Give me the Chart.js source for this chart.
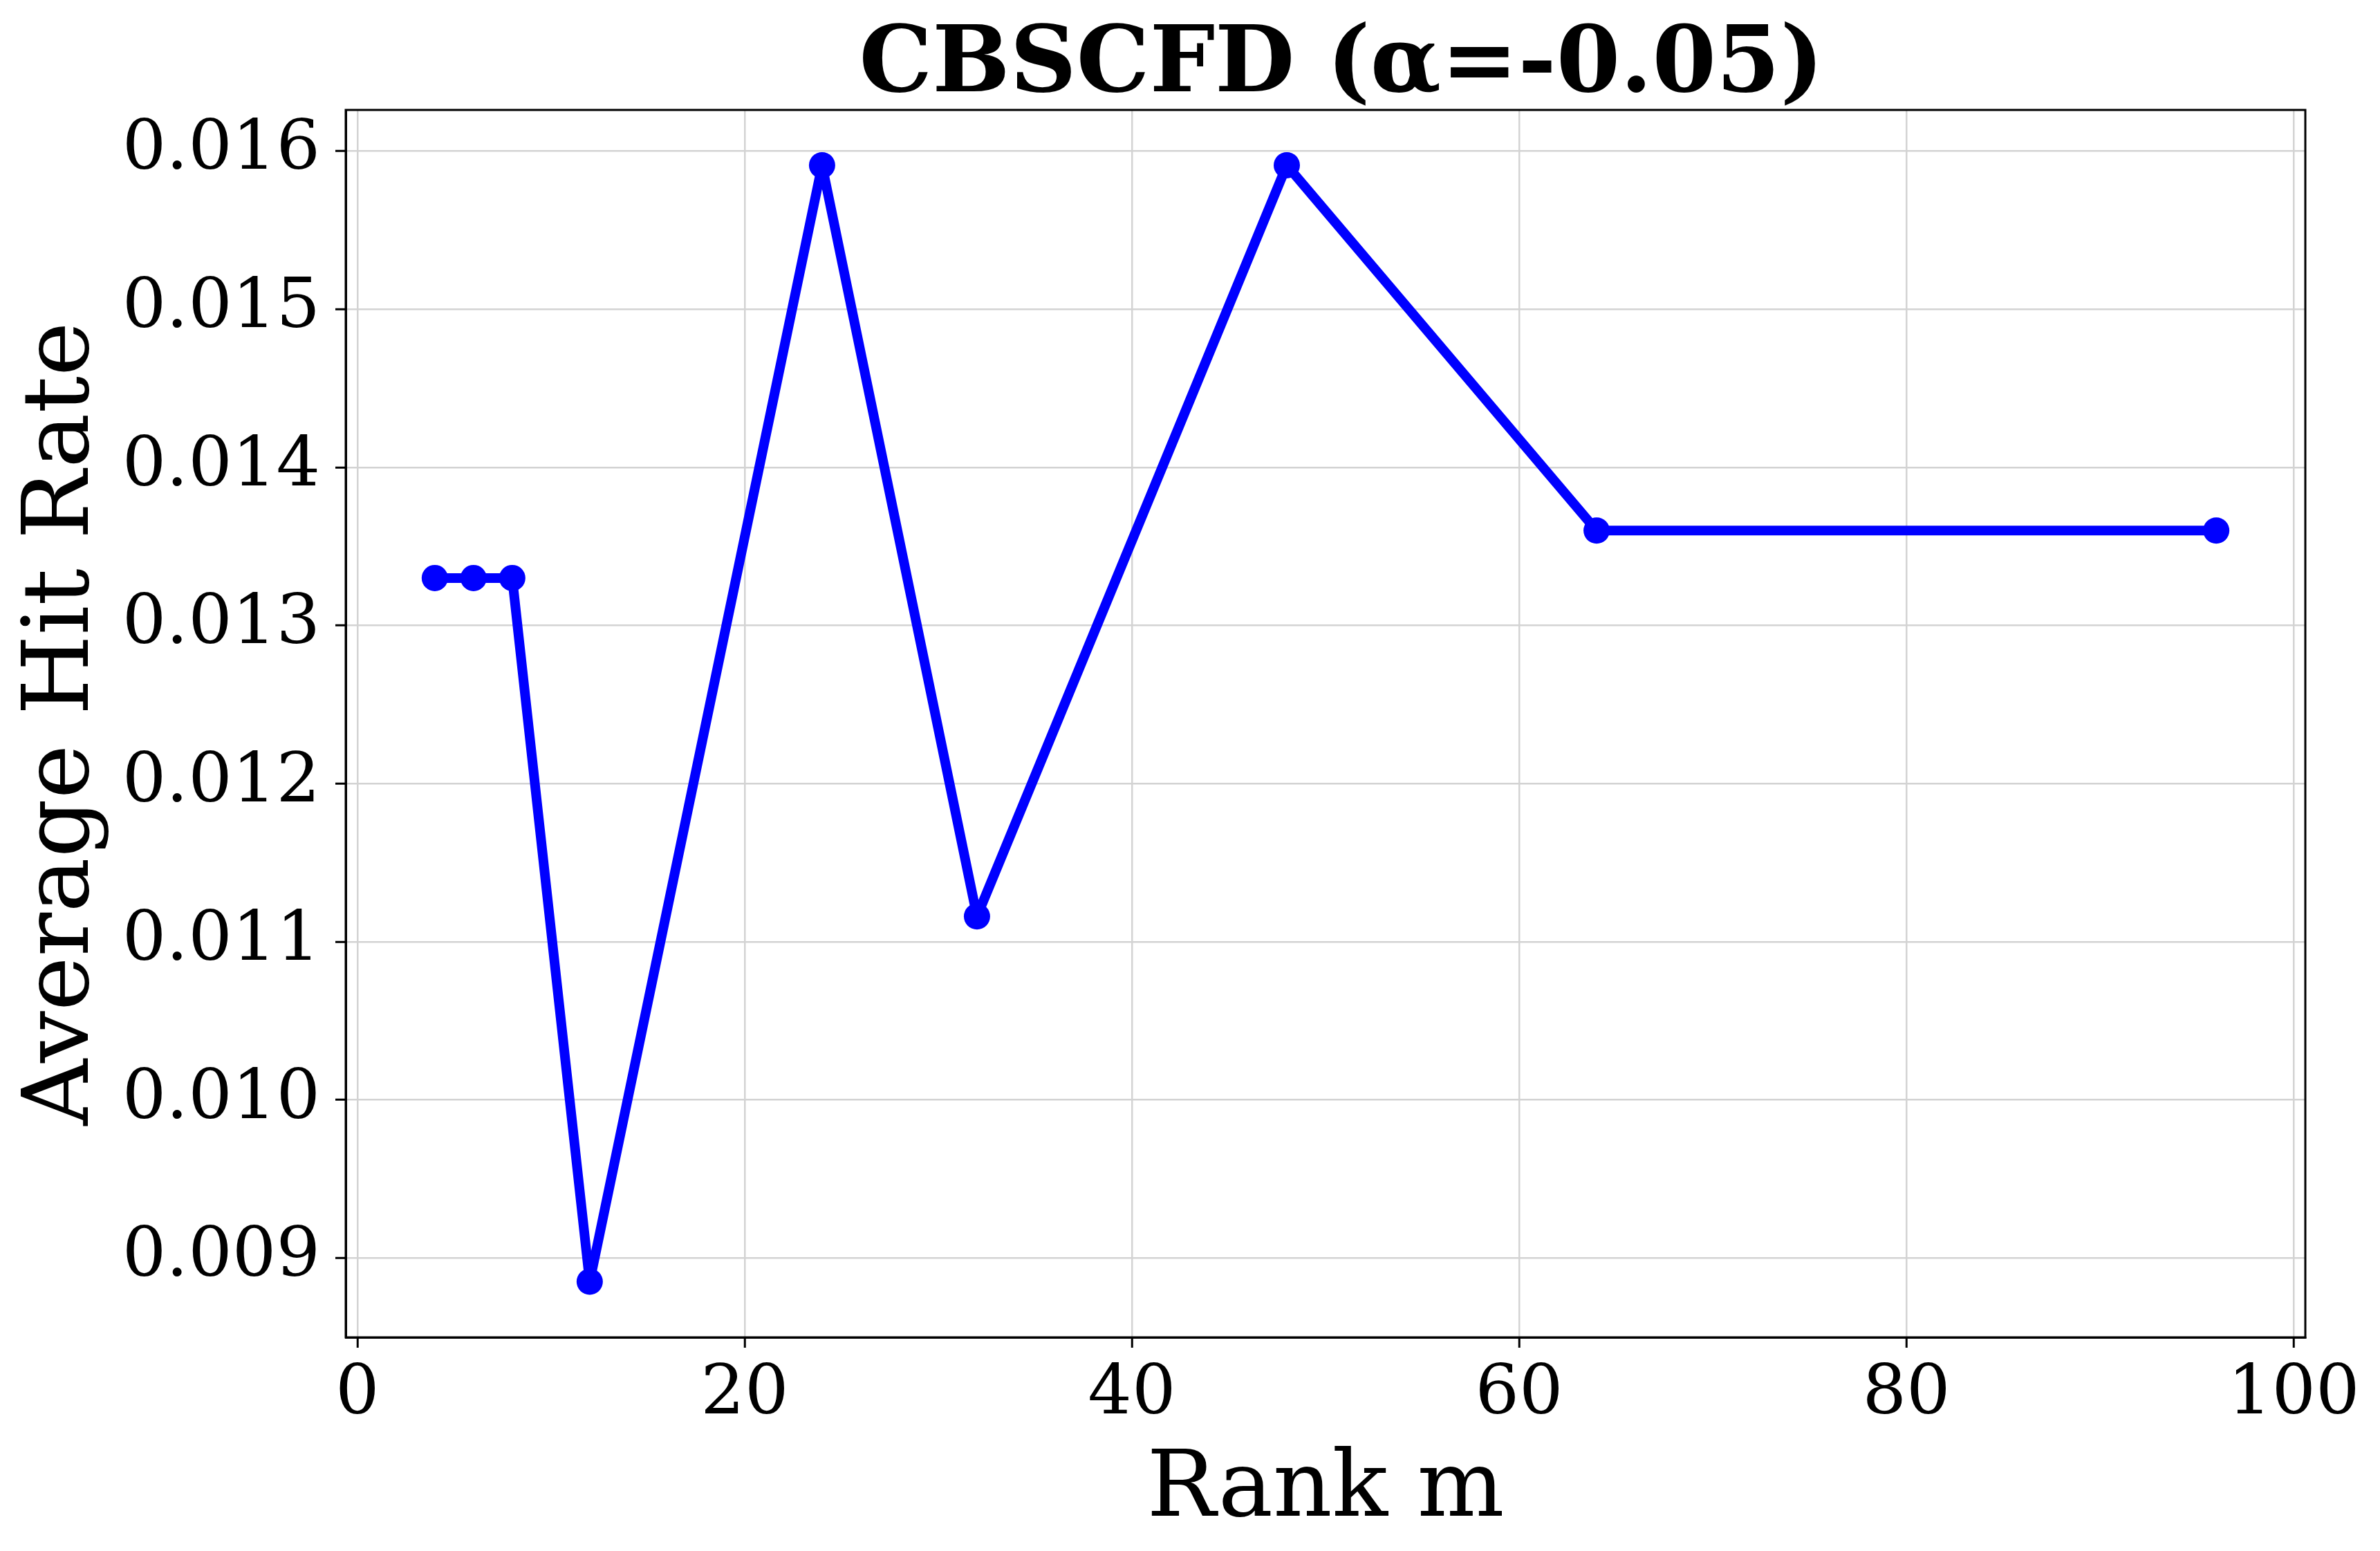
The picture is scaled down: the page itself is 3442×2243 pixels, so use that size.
<!DOCTYPE html>
<html>
<head>
<meta charset="utf-8">
<script src="https://cdn.jsdelivr.net/npm/chart.js@4.4.1/dist/chart.umd.min.js"></script>
<style>
  html, body { margin: 0; padding: 0; background: #ffffff; }
  #c { display: block; }
</style>
</head>
<body>
<canvas id="c" width="3442" height="2243"></canvas>
<script>
// ---- data ----
const rankM = [4, 6, 8, 12, 24, 32, 48, 64, 96];
const hitRate = [0.0133, 0.0133, 0.0133, 0.00885, 0.01591, 0.01116, 0.01591, 0.0136, 0.0136];
const xTickValues = [0, 20, 40, 60, 80, 100];
const yTickValues = [0.009, 0.010, 0.011, 0.012, 0.013, 0.014, 0.015, 0.016];
const chartTitle = 'CBSCFD (α=-0.05)';
const xLabel = 'Rank m';
const yLabel = 'Average Hit Rate';

const points = rankM.map((x, i) => ({ x: x, y: hitRate[i] }));
const FONT = "'DejaVu Serif', 'Liberation Serif', serif";

const framePlugin = {
  id: 'frame',
  afterLayout(chart) {
    const t = chart.titleBlock;
    if (t) { t.left += 23; t.right += 23; }
  },
  afterDatasetsDraw(chart) {
    const a = chart.chartArea;
    const ctx = chart.ctx;
    ctx.save();
    ctx.strokeStyle = '#000000';
    ctx.lineWidth = 3;
    ctx.strokeRect(a.left, a.top, a.right - a.left, a.bottom - a.top);
    ctx.restore();
  }
};

new Chart(document.getElementById('c'), {
  type: 'line',
  data: {
    datasets: [{
      data: points,
      borderColor: '#0000ff',
      backgroundColor: '#0000ff',
      borderWidth: 14,
      borderJoinStyle: 'round',
      borderCapStyle: 'round',
      pointRadius: 19,
      pointHoverRadius: 19,
      pointBackgroundColor: '#0000ff',
      pointBorderColor: '#0000ff',
      pointBorderWidth: 0,
      tension: 0,
      fill: false,
      clip: false
    }]
  },
  options: {
    responsive: false,
    animation: false,
    devicePixelRatio: 1,
    layout: { padding: { left: 0, right: 108, top: 0, bottom: 0 } },
    plugins: {
      legend: { display: false },
      tooltip: { enabled: false },
      title: {
        display: true,
        text: chartTitle,
        fullSize: false,
        color: '#000000',
        font: { family: FONT, size: 133, weight: 'bold', lineHeight: '120px' },
        padding: { top: 37, bottom: 2 }
      }
    },
    scales: {
      x: {
        type: 'linear',
        min: -0.6,
        max: 100.6,
        afterBuildTicks(scale) { scale.ticks = xTickValues.map(v => ({ value: v })); },
        afterFit(scale) { scale.height = 309; },
        ticks: {
          color: '#000000',
          font: { family: FONT, size: 100, lineHeight: 1.2 },
          padding: 9,
          maxRotation: 0,
          autoSkip: false,
          callback: v => String(v)
        },
        grid: {
          color: '#d3d3d3',
          lineWidth: 2.5,
          tickColor: '#000000',
          tickWidth: 3,
          tickLength: 15
        },
        border: { display: true, color: '#000000', width: 3 },
        title: {
          display: true,
          text: xLabel,
          color: '#000000',
          font: { family: FONT, size: 133, lineHeight: '150px' },
          padding: { top: 0, bottom: 11 }
        }
      },
      y: {
        type: 'linear',
        min: 0.008498,
        max: 0.01626,
        afterBuildTicks(scale) { scale.ticks = yTickValues.map(v => ({ value: v })); },
        afterFit(scale) { scale.width = 500; },
        ticks: {
          color: '#000000',
          font: { family: FONT, size: 100, lineHeight: 1.2 },
          padding: 22,
          autoSkip: false,
          callback: v => Number(v).toFixed(3)
        },
        grid: {
          color: '#d3d3d3',
          lineWidth: 2.5,
          tickColor: '#000000',
          tickWidth: 3,
          tickLength: 15
        },
        border: { display: true, color: '#000000', width: 3 },
        title: {
          display: true,
          text: yLabel,
          color: '#000000',
          font: { family: FONT, size: 133, lineHeight: '150px' },
          padding: { top: 17, bottom: 0 }
        }
      }
    }
  },
  plugins: [framePlugin]
});
</script>
</body>
</html>
